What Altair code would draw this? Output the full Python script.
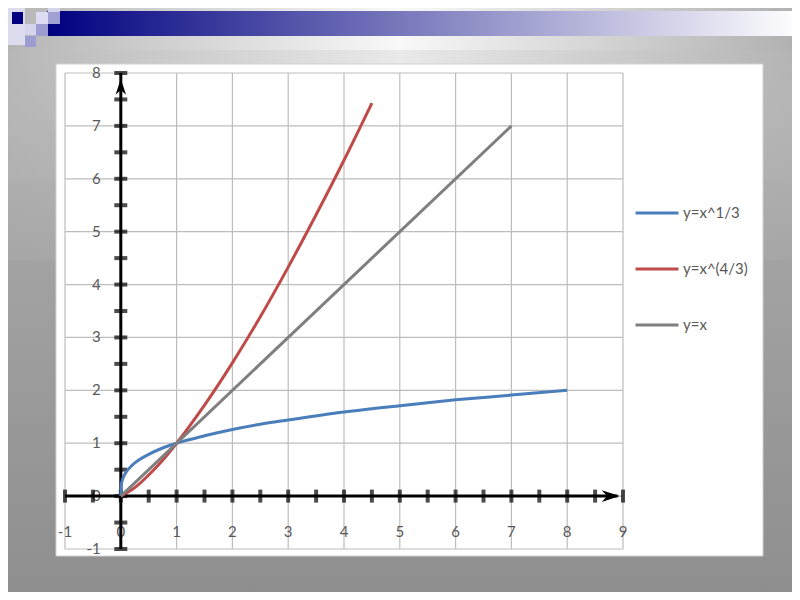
import altair as alt
import pandas as pd

# ---------------- data ----------------
series_names = ["y=x^1/3", "y=x^(4/3)", "y=x"]
series_colors = ["#4A7EBB", "#BE4B48", "#7F7F7F"]

cube_x = [0, 0.01, 0.03, 0.06, 0.1, 0.2, 0.35, 0.5, 0.75, 1, 1.5, 2, 2.5, 3, 4, 5, 6, 7, 8]
cube_y = [0, 0.22, 0.31, 0.39, 0.46, 0.58, 0.70, 0.79, 0.91, 1.0, 1.14, 1.26, 1.36, 1.44, 1.59, 1.71, 1.82, 1.91, 2.0]

pow_x = [0, 0.25, 0.5, 0.75, 1, 1.5, 2, 2.5, 3, 3.5, 4, 4.5]
pow_y = [0, 0.16, 0.40, 0.68, 1.0, 1.72, 2.52, 3.39, 4.33, 5.32, 6.35, 7.43]

lin_x = [0, 7]
lin_y = [0, 7]

x_grid = [-1, 0, 1, 2, 3, 4, 5, 6, 7, 8, 9]
y_grid = [-1, 0, 1, 2, 3, 4, 5, 6, 7, 8]
x_label_pos = [-1, 0, 1, 2, 3, 4, 5, 6, 7, 8, 9]
x_label_txt = ["-1", "0", "1", "2", "3", "4", "5", "6", "7", "8", "9"]
y_label_pos = [-1, 0, 1, 2, 3, 4, 5, 6, 7, 8]
y_label_txt = ["-1", "0", "1", "2", "3", "4", "5", "6", "7", "8"]
x_ticks = [-1, -0.5, 0, 0.5, 1, 1.5, 2, 2.5, 3, 3.5, 4, 4.5, 5, 5.5, 6, 6.5, 7, 7.5, 8, 8.5, 9]
y_ticks = [-1, -0.5, 0, 0.5, 1, 1.5, 2, 2.5, 3, 3.5, 4, 4.5, 5, 5.5, 6, 6.5, 7, 7.5, 8]

# ---------------- tables ----------------
rows = []
for name, xs_, ys_ in zip(series_names, [cube_x, pow_x, lin_x], [cube_y, pow_y, lin_y]):
    for i, (a, b) in enumerate(zip(xs_, ys_)):
        rows.append({"series": name, "x": a, "y": b, "i": i})
curves = pd.DataFrame(rows)

XS = alt.Scale(domain=[-1, 9], nice=False, zero=False)
YS = alt.Scale(domain=[-1, 8], nice=False, zero=False)

OX, OY = 65, 73  # plot origin on screen (page margin 8 + padding)
one = pd.DataFrame({"a": [0]})


def box(x1, y1, x2, y2, fill, stroke=None, opacity=1):
    kw = {"color": fill, "opacity": opacity}
    if stroke:
        kw["stroke"] = stroke
        kw["strokeWidth"] = 1
    return alt.Chart(one).mark_rect(**kw).encode(
        x=alt.value(x1 - OX), x2=alt.value(x2 - OX),
        y=alt.value(y1 - OY), y2=alt.value(y2 - OY),
    )


def lg(stops, x2=0, y2=1):
    return alt.LinearGradient(
        gradient="linear", x1=0, y1=0, x2=x2, y2=y2,
        stops=[alt.GradientStop(color=c, offset=o) for c, o in stops])


bg = box(0, 0, 800, 600, lg([("#c4c4c4", 0), ("#a2a2a2", 0.45), ("#8e8e8e", 1)]))
hband = lg([("#b4b4b4", 0), ("#f8f8f8", 0.5), ("#b0b0b0", 1)], x2=1, y2=0)
bands = [
    box(0, 0, 800, 50, hband, opacity=1.0),
    box(0, 50, 800, 80, hband, opacity=0.75),
    box(0, 80, 800, 120, hband, opacity=0.5),
    box(0, 120, 800, 180, hband, opacity=0.3),
    box(0, 180, 800, 260, hband, opacity=0.15),
]
bar = box(47, 11, 800, 36, lg([("#000080", 0), ("#ffffff", 1)], x2=1, y2=0))

decor = [
    box(0, 0, 25, 45, "#dcdcee"),
    box(12, 12, 23, 24, "#000080"),
    box(25, 24, 36, 35, "#d4d4ee"),
    box(25, 36, 36, 47, "#9c9cd0"),
    box(36, 12, 48, 24, "#dcdcf2"),
    box(36, 24, 48, 36, "#9c9cd0"),
    box(48, 0, 60, 12, "#d4d4ec"),
    box(48, 12, 60, 24, "#a0a0d2"),
]

panel = box(56, 64, 763, 556, "#ffffff", stroke="#d0d0d0")

gx = alt.Chart(pd.DataFrame({"v": x_grid, "lo": -1, "hi": 8})).mark_rule(
    color="#bdbdbd", strokeWidth=1.2).encode(
    x=alt.X("v:Q", scale=XS, axis=None),
    y=alt.Y("lo:Q", scale=YS, axis=None), y2="hi:Q")
gy = alt.Chart(pd.DataFrame({"v": y_grid, "lo": -1, "hi": 9})).mark_rule(
    color="#bdbdbd", strokeWidth=1.2).encode(
    y=alt.Y("v:Q", scale=YS, axis=None),
    x=alt.X("lo:Q", scale=XS, axis=None), x2="hi:Q")

font = "Lato"
lx = alt.Chart(pd.DataFrame({"v": x_label_pos, "t": x_label_txt, "p": -0.68})).mark_text(
    font=font, fontSize=15, color="#595959", align="center", baseline="middle").encode(
    x=alt.X("v:Q", scale=XS, axis=None), y=alt.Y("p:Q", scale=YS, axis=None), text="t:N")
ly = alt.Chart(pd.DataFrame({"v": y_label_pos, "t": y_label_txt, "p": -0.36})).mark_text(
    font=font, fontSize=15, color="#595959", align="right", baseline="middle").encode(
    y=alt.Y("v:Q", scale=YS, axis=None), x=alt.X("p:Q", scale=XS, axis=None), text="t:N")

ax_x = alt.Chart(pd.DataFrame({"a": [-1], "b": [8.9], "c": [0]})).mark_rule(
    color="black", strokeWidth=3).encode(
    x=alt.X("a:Q", scale=XS, axis=None), x2="b:Q", y=alt.Y("c:Q", scale=YS, axis=None))
ax_y = alt.Chart(pd.DataFrame({"a": [-1], "b": [8], "c": [0]})).mark_rule(
    color="black", strokeWidth=3).encode(
    y=alt.Y("a:Q", scale=YS, axis=None), y2="b:Q", x=alt.X("c:Q", scale=XS, axis=None))

tx = alt.Chart(pd.DataFrame({"v": x_ticks, "z": 0})).mark_tick(
    orient="vertical", size=13, thickness=4, color="black").encode(
    x=alt.X("v:Q", scale=XS, axis=None), y=alt.Y("z:Q", scale=YS, axis=None))
ty = alt.Chart(pd.DataFrame({"v": y_ticks, "z": 0})).mark_tick(
    orient="horizontal", size=13, thickness=4, color="black").encode(
    y=alt.Y("v:Q", scale=YS, axis=None), x=alt.X("z:Q", scale=XS, axis=None))

arrow_r = alt.Chart(pd.DataFrame({"x": [8.78], "y": [0]})).mark_point(
    shape="M -1 -0.65 L 1 0 L -1 0.65 L -0.4 0 Z", size=324, filled=True,
    color="black", opacity=1).encode(
    x=alt.X("x:Q", scale=XS, axis=None), y=alt.Y("y:Q", scale=YS, axis=None))
arrow_u = alt.Chart(pd.DataFrame({"x": [0], "y": [7.74]})).mark_point(
    shape="M -0.65 1 L 0 -1 L 0.65 1 L 0 0.4 Z", size=256, filled=True,
    color="black", opacity=1).encode(
    x=alt.X("x:Q", scale=XS, axis=None), y=alt.Y("y:Q", scale=YS, axis=None))

lines = alt.Chart(curves).mark_line(strokeWidth=3, interpolate="monotone").encode(
    x=alt.X("x:Q", scale=XS, axis=None),
    y=alt.Y("y:Q", scale=YS, axis=None),
    order=alt.Order("i:Q"),
    color=alt.Color("series:N", sort=series_names,
                    scale=alt.Scale(domain=series_names, range=series_colors),
                    legend=alt.Legend(
                        title=None, orient="none", legendX=569, legendY=117,
                        symbolType="stroke", symbolSize=1849, symbolStrokeWidth=3,
                        labelFont=font, labelFontSize=15, labelColor="#595959",
                        labelOffset=3, rowPadding=25, padding=0)),
)

chart = alt.layer(
    bg, *bands, bar, *decor, panel, gx, gy, lx, ly, ax_x, ax_y, tx, ty, arrow_r, arrow_u, lines
).properties(
    width=558, height=476,
    padding={"left": 57, "top": 65, "right": 169, "bottom": 43},
    autosize=alt.AutoSizeParams(type="none"),
    background="#a8a8a8",
).configure_view(strokeWidth=0)

chart.save("out.html", embed_options={"renderer": "svg", "actions": False})
